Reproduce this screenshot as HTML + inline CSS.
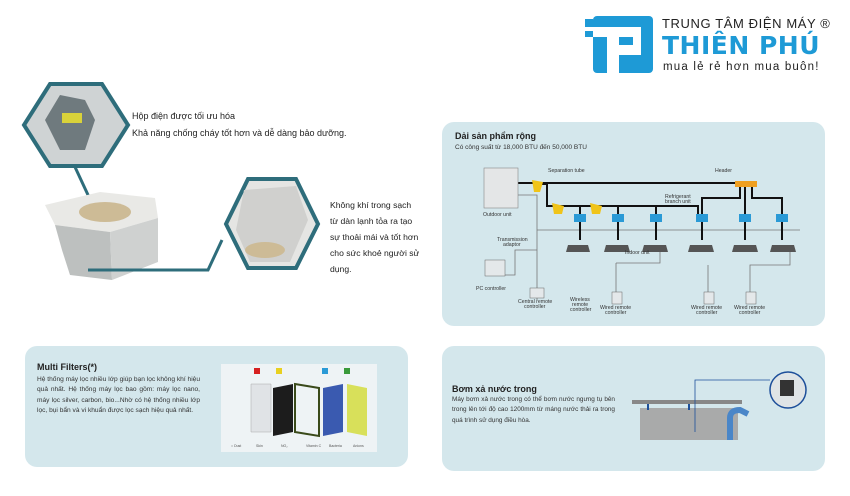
<!DOCTYPE html>
<html><head><meta charset="utf-8"><style>
body{margin:0;width:850px;height:496px;background:#fff;position:relative;overflow:hidden;font-family:"Liberation Sans","Noto Sans CJK SC",sans-serif;color:#222}
.t{position:absolute;font-size:8.5px;line-height:16px}
.p{position:absolute;background:#d4e7ec;border-radius:12px}
.h{font-weight:bold;font-size:9px}
</style></head><body>
<!-- logo -->
<svg style="position:absolute;left:585px;top:13px" width="70" height="60" viewBox="0 0 70 60">
<rect x="8" y="3" width="60" height="57" rx="4" fill="#1e9ad6"/>
<rect x="0" y="6" width="8" height="8" fill="#1e9ad6"/><rect x="0" y="18" width="8" height="6" fill="#1e9ad6"/>
<rect x="8" y="14" width="46" height="10" fill="#fff"/><rect x="22" y="14" width="12" height="46" fill="#fff"/>
<rect x="34" y="32" width="20" height="10" fill="#fff"/><rect x="48" y="14" width="8" height="28" fill="#fff"/>
</svg>
<div style="position:absolute;left:662px;top:16px;font-size:13px;letter-spacing:0.6px;color:#222;white-space:nowrap">TRUNG TÂM ĐIỆN MÁY ®</div>
<div style="position:absolute;left:662px;top:31px;font-size:25px;font-weight:bold;font-family:'DejaVu Sans','Liberation Sans',sans-serif;color:#1e9ad6;white-space:nowrap;letter-spacing:0.5px">THIÊN PHÚ</div>
<div style="position:absolute;left:663px;top:61px;font-size:11.5px;letter-spacing:1.2px;color:#222;white-space:nowrap">mua lẻ rẻ hơn mua buôn!</div>

<!-- left unit -->
<svg style="position:absolute;left:0;top:0" width="440" height="300">
<polygon points="50,84 102,84 128,125 102,166 50,166 24,125" fill="#cfd3d4" stroke="#2e6d7b" stroke-width="4"/>
<polygon points="60,95 85,100 95,120 85,150 60,150 45,120" fill="#6f7a7e"/>
<rect x="62" y="113" width="20" height="10" fill="#d9d23a"/>
<line x1="75" y1="167" x2="95" y2="210" stroke="#2e6d7b" stroke-width="3"/>
<polygon points="248,179 296,179 318,224 296,268 248,268 226,224" fill="#e5e5e3" stroke="#2e6d7b" stroke-width="4"/>
<polygon points="244,190 296,186 308,220 290,262 250,262 236,230" fill="#d0d0ce"/>
<ellipse cx="265" cy="250" rx="20" ry="8" fill="#cdbb96"/>
<polygon points="45,205 100,192 155,198 158,218 110,232 55,225" fill="#e9e9e6"/>
<polygon points="55,225 110,232 112,280 70,275 62,250" fill="#bdc0bf"/>
<polygon points="110,232 158,218 158,262 112,280" fill="#cfd1d0"/>
<ellipse cx="105" cy="212" rx="26" ry="10" fill="#cdbb96"/>
<polyline points="88,270 208,270 222,240" fill="none" stroke="#2e6d7b" stroke-width="3"/>
</svg>
<div class="t" style="left:132px;top:108px;width:260px;font-size:9px;line-height:17px;white-space:nowrap">Hộp điện được tối ưu hóa<br>Khả năng chống cháy tốt hơn và dễ dàng bảo dưỡng.</div>
<div class="t" style="left:330px;top:197px;width:90px;font-size:8.6px;line-height:16px">Không khí trong sạch<br>từ dàn lạnh tỏa ra tạo<br>sự thoải mái và tốt hơn<br>cho sức khoẻ người sử<br>dụng.</div>

<!-- top right panel -->
<div class="p" style="left:442px;top:122px;width:383px;height:204px"></div>
<div class="h" style="position:absolute;left:455px;top:131px">Dải sản phẩm rộng</div>
<div style="position:absolute;left:455px;top:144px;font-size:6.5px;color:#333">Có công suất từ 18,000 BTU đến 50,000 BTU</div>
<svg style="position:absolute;left:440px;top:120px" width="390" height="210">
<g stroke="#777" fill="none" stroke-width="0.8">
<polyline points="77,75 97,75 97,180"/>
<line x1="97" y1="110" x2="360" y2="110"/>
<polyline points="97,130 75,130 75,155 64,155"/>
<polyline points="176,143 176,172"/>
<polyline points="176,143 220,143 220,130"/>
<polyline points="268,172 268,145"/>
<polyline points="310,172 310,145 350,145 350,132"/>
</g>
<g stroke="#111" fill="none" stroke-width="2">
<polyline points="44,63 308,63"/>
<polyline points="100,64 107,64 107,86 258,86 258,95"/>
<line x1="140" y1="94" x2="140" y2="120"/><line x1="178" y1="94" x2="178" y2="120"/><line x1="216" y1="94" x2="216" y2="120"/>
<line x1="140" y1="86" x2="140" y2="94"/><line x1="178" y1="86" x2="178" y2="94"/><line x1="216" y1="86" x2="216" y2="94"/>
<polyline points="300,67 300,78 262,78 262,95"/><line x1="262" y1="94" x2="262" y2="120"/>
<line x1="305" y1="67" x2="305" y2="120"/><polyline points="312,67 312,78 342,78 342,120"/>
</g>
<g fill="#f0c419"><polygon points="92,60 103,62 100,72 94,72"/><polygon points="112,83 124,86 122,94 114,94"/><polygon points="150,83 162,86 160,94 152,94"/></g>
<rect x="295" y="61" width="22" height="6" fill="#f0a020"/>
<g fill="#2a9ad6"><rect x="134" y="94" width="12" height="8"/><rect x="172" y="94" width="12" height="8"/><rect x="210" y="94" width="12" height="8"/><rect x="256" y="94" width="12" height="8"/><rect x="299" y="94" width="12" height="8"/><rect x="336" y="94" width="12" height="8"/></g>
<rect x="44" y="48" width="34" height="40" fill="#e4e6e7" stroke="#888" stroke-width="0.6"/>
<g fill="#555"><polygon points="128,125 148,125 150,132 126,132"/><polygon points="166,125 188,125 190,132 164,132"/><polygon points="204,125 226,125 228,132 202,132"/><polygon points="250,125 272,125 274,132 248,132"/><polygon points="294,125 316,125 318,132 292,132"/><polygon points="332,125 354,125 356,132 330,132"/></g>
<g fill="#e4e8ea" stroke="#666" stroke-width="0.5"><rect x="45" y="140" width="20" height="16"/><rect x="90" y="168" width="14" height="10"/><rect x="172" y="172" width="10" height="12"/><rect x="264" y="172" width="10" height="12"/><rect x="306" y="172" width="10" height="12"/></g>
<g font-size="5.2" fill="#333" font-family="Liberation Sans,sans-serif">
<text x="108" y="52">Separation tube</text><text x="275" y="52">Header</text>
<text x="43" y="96">Outdoor unit</text><text x="225" y="78">Refrigerant</text><text x="225" y="83">branch unit</text>
<text x="57" y="121">Transmission</text><text x="63" y="126">adaptor</text>
<text x="185" y="134">Indoor unit</text><text x="36" y="170">PC controller</text>
<text x="78" y="183">Central remote</text><text x="84" y="188">controller</text>
<text x="130" y="181">Wireless</text><text x="132" y="186">remote</text><text x="130" y="191">controller</text>
<text x="160" y="189">Wired remote</text><text x="165" y="194">controller</text>
<text x="251" y="189">Wired remote</text><text x="256" y="194">controller</text>
<text x="294" y="189">Wired remote</text><text x="299" y="194">controller</text>
</g></svg>

<!-- bottom left panel -->
<div class="p" style="left:25px;top:346px;width:383px;height:121px"></div>
<div class="h" style="position:absolute;left:37px;top:362px">Multi Filters(*)</div>
<div style="position:absolute;left:37px;top:375px;width:163px;font-size:6.6px;line-height:10.3px;text-align:justify;color:#333">Hệ thống máy lọc nhiều lớp giúp bạn lọc không khí hiệu quả nhất. Hệ thống máy lọc bao gồm: máy lọc nano, máy lọc silver, carbon, bio...Nhờ có hệ thống nhiều lớp lọc, bụi bẩn và vi khuẩn được lọc sạch hiệu quả nhất.</div>
<svg style="position:absolute;left:221px;top:364px" width="156" height="88">
<rect width="156" height="88" fill="#eef3f5"/>
<polygon points="30,20 50,20 50,68 30,68" fill="#e0e3e6" stroke="#aaa" stroke-width="0.5"/>
<polygon points="52,24 72,20 72,68 52,72" fill="#1c1c1c"/>
<polygon points="74,20 98,24 98,72 74,68" fill="none" stroke="#3a4a1a" stroke-width="2"/>
<polygon points="102,24 122,20 122,68 102,72" fill="#3a5ab0"/>
<polygon points="126,20 146,24 146,72 126,68" fill="#d8e05a"/>
<rect x="33" y="4" width="6" height="6" fill="#d62020"/><rect x="55" y="4" width="6" height="6" fill="#e8d020"/><rect x="101" y="4" width="6" height="6" fill="#2a9ad6"/><rect x="123" y="4" width="6" height="6" fill="#3a9a3a"/>
<g font-size="3.5" fill="#555"><text x="10" y="83">○ Dust</text><text x="35" y="83">Skin</text><text x="60" y="83">NO₂</text><text x="85" y="83">Vitamin C</text><text x="108" y="83">Bacteria</text><text x="132" y="83">Anions</text></g>
</svg>

<!-- bottom right panel -->
<div class="p" style="left:442px;top:346px;width:383px;height:125px"></div>
<div class="h" style="position:absolute;left:452px;top:384px">Bơm xả nước trong</div>
<div style="position:absolute;left:452px;top:395px;width:163px;font-size:6.4px;line-height:10.3px;text-align:justify;color:#333">Máy bơm xả nước trong có thể bơm nước ngưng tụ bên trong lên tới độ cao 1200mm từ máng nước thải ra trong quá trình sử dụng điều hòa.</div>
<svg style="position:absolute;left:630px;top:360px" width="180" height="80">
<rect x="2" y="40" width="110" height="4" fill="#888"/>
<rect x="10" y="48" width="98" height="32" fill="#a9aaaa"/>
<rect x="17" y="44" width="2" height="6" fill="#1d4f9a"/><rect x="58" y="44" width="2" height="6" fill="#1d4f9a"/>
<polygon points="2,80 115,80 110,86 8,86" fill="#1d4f9a"/>
<path d="M100,80 L100,58 Q100,50 110,50 L118,54" stroke="#4a86c8" stroke-width="6" fill="none"/>
<polyline points="65,72 65,20 140,20" stroke="#1d4f9a" fill="none" stroke-width="0.8"/>
<circle cx="158" cy="30" r="18" fill="#dfe4e6" stroke="#1d4f9a" stroke-width="1.5"/>
<rect x="150" y="20" width="14" height="16" fill="#333"/>
</svg>
</body></html>
